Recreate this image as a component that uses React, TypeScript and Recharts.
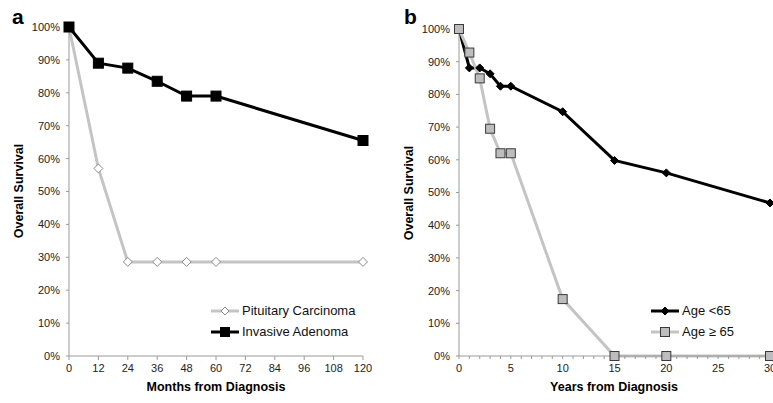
import { LineChart, Line, XAxis, YAxis, Legend } from "recharts";

// panel a: months from diagnosis
const months = [0, 12, 24, 36, 48, 60, 120];
const pituitaryCarcinoma = [100, 57, 28.6, 28.6, 28.6, 28.6, 28.6];
const invasiveAdenoma = [100, 89, 87.5, 83.5, 79, 79, 65.5];
const monthTicks = [0, 12, 24, 36, 48, 60, 72, 84, 96, 108, 120];

// panel b: years from diagnosis
const years = [0, 1, 2, 3, 4, 5, 10, 15, 20, 30];
const ageUnder65 = [100, 88.1, 88.1, 86.3, 82.5, 82.5, 74.7, 59.8, 56, 46.8];
const ageOver65 = [100, 92.8, 84.9, 69.5, 62, 62, 17.4, 0, 0, 0];
const yearTicks = [
  0, 1, 2, 3, 4, 5, 6, 7, 8, 9, 10, 11, 12, 13, 14, 15, 16, 17, 18, 19, 20,
  21, 22, 23, 24, 25, 26, 27, 28, 29, 30,
];
const yearLabels = [0, 5, 10, 15, 20, 25, 30];

const pctTicks = [0, 10, 20, 30, 40, 50, 60, 70, 80, 90, 100];

const dataA = months.map((m, i) => ({
  m,
  pit: pituitaryCarcinoma[i],
  inv: invasiveAdenoma[i],
}));
const dataB = years.map((y, i) => ({
  y,
  young: ageUnder65[i],
  old: ageOver65[i],
}));

const FONT = "'Liberation Sans', Arial, sans-serif";
const AXIS = "#9a9a9a";
const GREY_LINE = "#c4c4c4";

const square = (size: number, fill: string, stroke: string) => (p: any) => (
  <rect
    key={p.key ?? p.index}
    x={p.cx - size / 2}
    y={p.cy - size / 2}
    width={size}
    height={size}
    fill={fill}
    stroke={stroke}
    strokeWidth={1}
  />
);

const diamond = (size: number, fill: string, stroke: string) => (p: any) => {
  const h = size / 2;
  return (
    <path
      key={p.key ?? p.index}
      d={`M${p.cx},${p.cy - h}L${p.cx + h},${p.cy}L${p.cx},${p.cy + h}L${p.cx - h},${p.cy}Z`}
      fill={fill}
      stroke={stroke}
      strokeWidth={1}
    />
  );
};

type Item = { label: string; line: string; marker: "sq" | "di"; fill: string; stroke: string; size: number };

const legendContent = (items: Item[]) => () => (
  <div style={{ fontFamily: FONT, fontSize: 13, color: "#111" }}>
    {items.map((it) => (
      <div key={it.label} style={{ display: "flex", alignItems: "center", height: 21 }}>
        <svg width={29} height={14}>
          <line x1={0} y1={7} x2={28} y2={7} stroke={it.line} strokeWidth={3} />
          {it.marker === "sq" ? (
            <rect x={14 - it.size / 2} y={7 - it.size / 2} width={it.size} height={it.size} fill={it.fill} stroke={it.stroke} />
          ) : (
            <path
              d={`M14,${7 - it.size / 2}L${14 + it.size / 2},7L14,${7 + it.size / 2}L${14 - it.size / 2},7Z`}
              fill={it.fill}
              stroke={it.stroke}
            />
          )}
        </svg>
        <span style={{ marginLeft: 2 }}>{it.label}</span>
      </div>
    ))}
  </div>
);

const tickStyle = { fontFamily: FONT, fontSize: 11, fill: "#222" };

export default function App() {
  return (
    <div style={{ position: "absolute", left: 0, top: 0, width: 773, height: 403, background: "#fff" }}>
      <div style={{ position: "absolute", left: 0, top: 0 }}>
        <LineChart width={390} height={403} data={dataA} margin={{ top: 27, right: 27, bottom: 0, left: 0 }}>
          <XAxis
            dataKey="m"
            type="number"
            domain={[0, 120]}
            ticks={monthTicks}
            interval={0}
            height={47}
            tick={tickStyle}
            tickSize={4}
            tickMargin={4}
            stroke={AXIS}
          />
          <YAxis
            type="number"
            domain={[0, 100]}
            ticks={pctTicks}
            interval={0}
            tickFormatter={(v) => `${v}%`}
            width={69}
            tick={tickStyle}
            tickSize={3}
            tickMargin={6}
            stroke={AXIS}
          />
          <Line
            dataKey="pit"
            stroke={GREY_LINE}
            strokeWidth={3}
            dot={diamond(9, "#fff", "#8a8a8a")}
            isAnimationActive={false}
          />
          <Line
            dataKey="inv"
            stroke="#000"
            strokeWidth={3}
            dot={square(10, "#000", "#000")}
            isAnimationActive={false}
          />
          <Legend
            layout="vertical"
            align="center"
            verticalAlign="middle"
            wrapperStyle={{ left: 211, top: 300, width: 170 }}
            content={legendContent([
              { label: "Pituitary Carcinoma", line: GREY_LINE, marker: "di", fill: "#fff", stroke: "#8a8a8a", size: 8 },
              { label: "Invasive Adenoma", line: "#000", marker: "sq", fill: "#000", stroke: "#000", size: 9 },
            ])}
          />
        </LineChart>
      </div>
      <div style={{ position: "absolute", left: 390, top: 0 }}>
        <LineChart width={383} height={403} data={dataB} margin={{ top: 29, right: 3, bottom: 0, left: 0 }}>
          <XAxis
            dataKey="y"
            type="number"
            domain={[0, 30]}
            ticks={yearTicks}
            interval={0}
            tickFormatter={(v) => (yearLabels.includes(v) ? `${v}` : "")}
            height={47}
            tick={tickStyle}
            tickSize={3}
            tickMargin={5}
            stroke={AXIS}
          />
          <YAxis
            type="number"
            domain={[0, 100]}
            ticks={pctTicks}
            interval={0}
            tickFormatter={(v) => `${v}%`}
            width={69}
            tick={tickStyle}
            tickSize={3}
            tickMargin={6}
            stroke={AXIS}
          />
          <Line
            dataKey="young"
            stroke="#000"
            strokeWidth={3}
            dot={diamond(8, "#000", "#000")}
            isAnimationActive={false}
          />
          <Line
            dataKey="old"
            stroke={GREY_LINE}
            strokeWidth={3}
            dot={square(9, "#bdbdbd", "#3a3a3a")}
            isAnimationActive={false}
          />
          <Legend
            layout="vertical"
            align="center"
            verticalAlign="middle"
            wrapperStyle={{ left: 261, top: 300, width: 120 }}
            content={legendContent([
              { label: "Age <65", line: "#000", marker: "di", fill: "#000", stroke: "#000", size: 8 },
              { label: "Age \u2265 65", line: GREY_LINE, marker: "sq", fill: "#bdbdbd", stroke: "#3a3a3a", size: 9 },
            ])}
          />
        </LineChart>
      </div>
      <svg
        width={773}
        height={403}
        style={{ position: "absolute", left: 0, top: 0, pointerEvents: "none" }}
        fontFamily={FONT}
      >
        <text x={12} y={24} fontSize={21} fontWeight="bold">a</text>
        <text x={404} y={24} fontSize={21} fontWeight="bold">b</text>
        <text x={216} y={391} fontSize={12.5} fontWeight="bold" textAnchor="middle">Months from Diagnosis</text>
        <text x={614} y={391} fontSize={12.5} fontWeight="bold" textAnchor="middle">Years from Diagnosis</text>
        <text x={23} y={191} fontSize={12.5} fontWeight="bold" textAnchor="middle" transform="rotate(-90 23 191)">Overall Survival</text>
        <text x={413} y={193} fontSize={12.5} fontWeight="bold" textAnchor="middle" transform="rotate(-90 413 193)">Overall Survival</text>
      </svg>
    </div>
  );
}
